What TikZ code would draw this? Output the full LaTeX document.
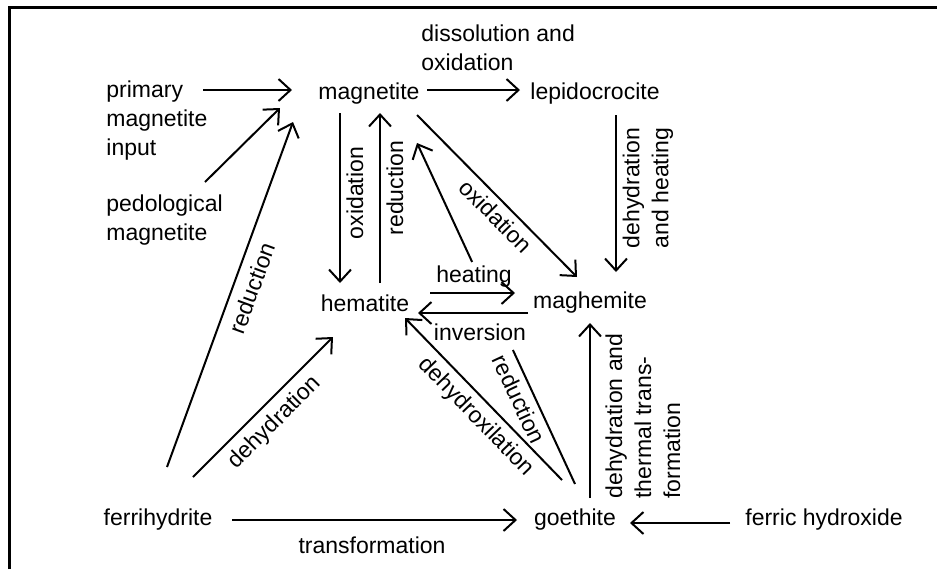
\documentclass[tikz,border=0pt]{standalone}
\usepackage{fontspec}
\setmainfont{Liberation Sans}
\usetikzlibrary{arrows.meta,calc}
\begin{document}
\begin{tikzpicture}[x=0.5pt,y=-0.5pt,
  lbl/.style={font=\fontsize{11.5}{14.5}\selectfont, inner sep=0pt},
  ln/.style={line width=1pt},
  arr/.style={ln, -{Straight Barb[length=6pt,width=11pt,line width=1pt]}}]
\useasboundingbox (0,0) rectangle (937,569);
\draw[line width=1.5pt] (9,569) -- (9,7) -- (937,7);

% main nodes
\node[lbl, align=left, anchor=west] (prim) at (106,121) {primary\\magnetite\\input};
\node[lbl, align=left, anchor=west] (ped) at (106,220) {pedological\\magnetite};
\node[lbl] (magn) at (369,94) {magnetite};
\node[lbl] (lepi) at (595,94) {lepidocrocite};
\node[lbl] (hema) at (365,303) {hematite};
\node[lbl] (magh) at (590,303) {maghemite};
\node[lbl] (ferri) at (158,520) {ferrihydrite};
\node[lbl] (goe) at (575,520) {goethite};
\node[lbl] (fhyd) at (824,520) {ferric hydroxide};

% labels
\node[lbl, align=left, anchor=west] (ldiss) at (421,48) {dissolution and\\oxidation};
\node[lbl] (lheat) at (474,277) {heating};
\node[lbl] (linv) at (480,332) {inversion};
\node[lbl] (ltrans) at (372,545) {transformation};
\node[lbl, rotate=90] (loxv) at (355,193) {oxidation};
\node[lbl, rotate=90] (lredv) at (395,188) {reduction};
\node[lbl, rotate=70] (lredf) at (252,288) {reduction};
\node[lbl, rotate=45] (ldehf) at (275,423) {dehydration};
\node[lbl, rotate=-45.4] (loxd) at (496,216) {oxidation};
\node[lbl, rotate=-46] (ldehx) at (476,417) {dehydroxilation};
\node[lbl, rotate=-65] (lredg) at (519,399) {reduction};
\node[lbl, rotate=90, align=left] (llep) at (648,188) {dehydration\\and heating};
\node[lbl, rotate=90, align=left] (lgoe) at (643,416) {dehydration and\\thermal trans-\\formation};

% connectors
\draw[arr] ($(prim.west)+(97,-31)$) -- ($(magn)+(-77,-4)$);
\draw[arr] ($(ped.west)+(99,-38)$) -- ($(magn)+(-89,14)$);
\draw[arr] ($(ferri)+(9,-53)$) -- ($(magn)+(-76,28)$);
\draw[arr] ($(ferri)+(35,-43)$) -- ($(hema)+(-32,34)$);
\draw[arr] ($(ferri)+(74,0)$) -- ($(goe)+(-58,0)$);
\draw[arr] ($(fhyd)+(-94,3)$) -- ($(goe)+(55,3)$);
\draw[arr] ($(goe)+(15,-22)$) -- ($(magh)+(0,20)$);
\draw[arr] ($(goe)+(-13,-40)$) -- ($(hema)+(40,15)$);
\coordinate (rA) at ($(goe)+(0,-36)$);
\coordinate (rB) at ($(magn)+(48,49)$);
\draw[ln] (rA) -- ($(rA)!0.393!(rB)$);
\draw[arr] ($(rA)!0.651!(rB)$) -- (rB);
\draw[arr] ($(magn)+(-29,19)$) -- ($(hema)+(-25,-20)$);
\draw[arr] ($(hema)+(15,-20)$) -- ($(magn)+(11,19)$);
\draw[arr] ($(magn)+(48,21)$) -- ($(magh)+(-13,-26)$);
\draw[arr] ($(magn)+(58,-4)$) -- ($(lepi)+(-75,-4)$);
\draw[arr] ($(lepi)+(21,21)$) -- ($(magh)+(26,-31)$);
\draw[arr] ($(hema)+(65,-10)$) -- ($(magh)+(-75,-10)$);
\draw[arr] ($(magh)+(-62,10)$) -- ($(hema)+(53,10)$);
\end{tikzpicture}
\end{document}
